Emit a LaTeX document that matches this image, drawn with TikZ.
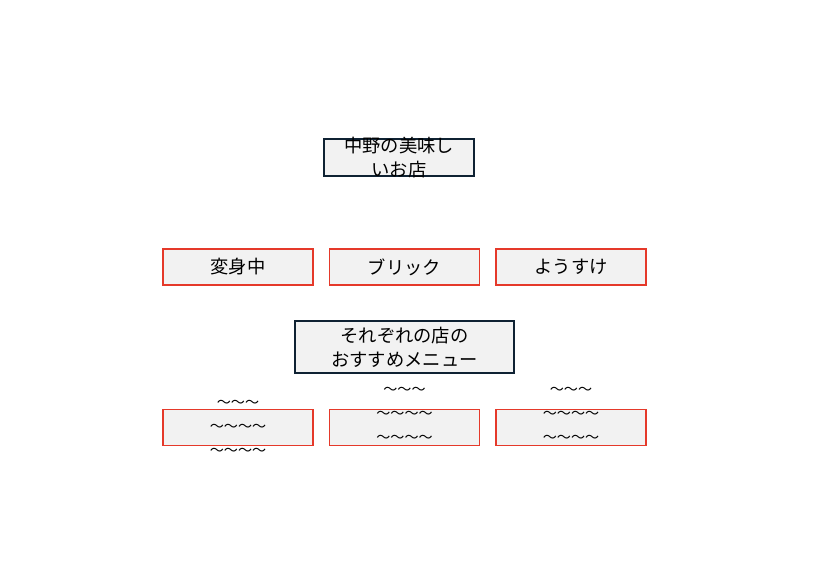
\documentclass[tikz,border=0pt]{standalone}
\usepackage{fontspec}
\setmainfont{Noto Sans CJK JP}
\definecolor{navy}{HTML}{0F2233}
\definecolor{redline}{HTML}{E5392A}
\definecolor{boxfill}{HTML}{F2F2F2}
\begin{document}
\begin{tikzpicture}[x=0.025cm,y=-0.025cm,
    shop/.style = {rectangle,draw=redline,fill=boxfill,line width=1.3pt,minimum width=3.75cm,minimum height=0.9cm,outer sep=0mm,font=\fontsize{13pt}{17pt}\selectfont},
    title/.style = {rectangle,draw=navy,fill=boxfill,line width=1.3pt,outer sep=0mm},
    txt/.style = {align=center,font=\fontsize{13pt}{17pt}\selectfont,inner sep=0pt},
    wave/.style = {align=center,font=\fontsize{10pt}{17pt}\selectfont,inner sep=0pt}]
\useasboundingbox (0,0) rectangle (828,566);
\node[title,minimum width=3.75cm,minimum height=0.92cm] (top) at (399,157.5) {};
\node[txt] (toptxt) at (top.center) {中野の美味し\\いお店};
\node[title,minimum width=5.48cm,minimum height=1.3cm] (menu) at (404.5,347) {};
\node[txt] (menutxt) at (menu.center) {それぞれの店の\\おすすめメニュー};
\foreach \name/\x [count=\j] in {変身中/238, ブリック/404.5, ようすけ/571}
    \node[shop] (s\j) at (\x,267) {\name};
\foreach \x [count=\j] in {238, 404.5, 571}
    \node[shop] (m\j) at (\x,427.5) {};
\node[wave] (w1) at (m1.center) {〜〜〜\\〜〜〜〜\\〜〜〜〜};
\node[wave] (w2) at ([yshift=12.5*0.025cm]m2.center) {〜〜〜\\〜〜〜〜\\〜〜〜〜};
\node[wave] (w3) at ([yshift=12.5*0.025cm]m3.center) {〜〜〜\\〜〜〜〜\\〜〜〜〜};
\end{tikzpicture}
\end{document}
